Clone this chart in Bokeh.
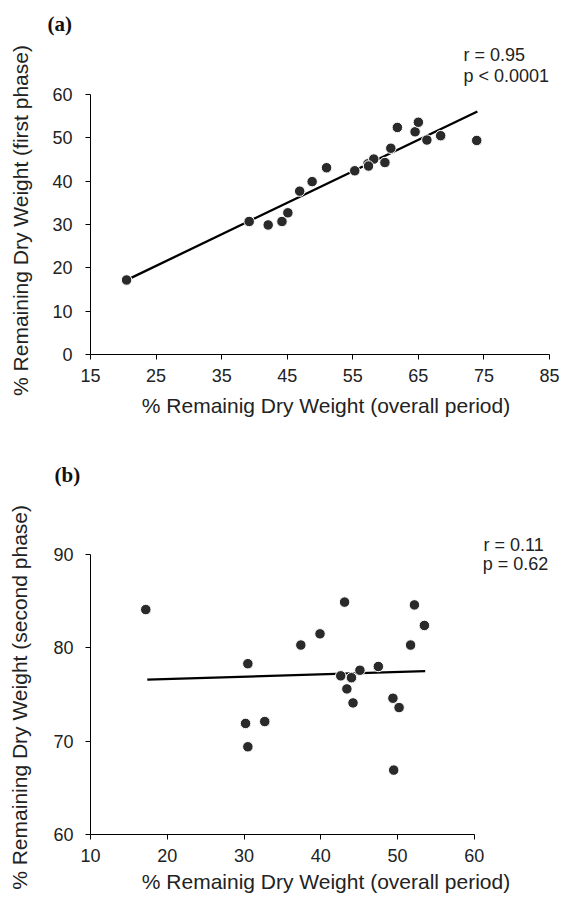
from bokeh.plotting import figure
from bokeh.layouts import column
from bokeh.models import Range1d, FixedTicker, Label, Title
from bokeh.embed import file_html
from bokeh.resources import INLINE

# ---------------- data ----------------
# panel (a)
a_overall = [20.5, 39.2, 42.1, 44.2, 45.1, 46.9, 48.8, 51.0, 55.3, 57.3, 58.2, 57.4,
             59.9, 60.8, 61.8, 64.5, 65.0, 66.3, 68.4, 73.9]
a_first = [17.2, 30.7, 29.9, 30.7, 32.7, 37.7, 39.9, 43.1, 42.4, 44.0, 45.1, 43.5,
           44.3, 47.6, 52.4, 51.4, 53.6, 49.5, 50.5, 49.4]
a_fit_x = [20.8, 74.0]
a_fit_y = [17.4, 56.1]
a_xticks = [15, 25, 35, 45, 55, 65, 75, 85]
a_yticks = [0, 10, 20, 30, 40, 50, 60]
a_stats = ["r = 0.95", "p < 0.0001"]

# panel (b)
b_overall = [17.2, 30.5, 30.2, 30.5, 32.7, 37.4, 39.9, 43.1, 42.6, 43.4, 44.0, 44.2,
             45.1, 47.5, 49.4, 50.2, 49.5, 51.7, 52.2, 53.5]
b_second = [84.1, 78.3, 71.9, 69.4, 72.1, 80.3, 81.5, 84.9, 77.0, 75.6, 76.8, 74.1,
            77.6, 78.0, 74.6, 73.6, 66.9, 80.3, 84.6, 82.4]
b_fit_x = [17.4, 53.6]
b_fit_y = [76.6, 77.5]
b_xticks = [10, 20, 30, 40, 50, 60]
b_yticks = [60, 70, 80, 90]
b_stats = ["r = 0.11", "p = 0.62"]

SANS = "Liberation Sans"
SERIF = "Liberation Serif"
TXT = "#222222"
DOT = "#2a2a2a"


def base_panel(height, xr, yr, xt, yt, top, bottom, x, y, fx, fy,
               xlab, ylab, ystand, ylabstand, xlabstand):
    p = figure(width=561, height=height, x_range=Range1d(*xr), y_range=Range1d(*yr),
               output_backend="svg", toolbar_location=None,
               min_border_left=90, min_border_right=0,
               min_border_top=top, min_border_bottom=bottom)
    p.title.visible = False
    xa, ya = p.xaxis[0], p.yaxis[0]
    xa.ticker = FixedTicker(ticks=xt)
    ya.ticker = FixedTicker(ticks=yt)
    xa.bounds = (xt[0], xt[-1])
    ya.bounds = (yt[0], yt[-1])
    for ax in (xa, ya):
        ax.axis_line_color = "black"
        ax.axis_line_width = 1
        ax.major_tick_line_color = "black"
        ax.major_tick_out = 5
        ax.major_tick_in = 0
        ax.minor_tick_line_color = None
        ax.major_label_text_font = SANS
        ax.major_label_text_font_size = "18px"
        ax.major_label_text_color = TXT
        ax.axis_label_text_font = SANS
        ax.axis_label_text_font_size = "21px"
        ax.axis_label_text_font_style = "normal"
        ax.axis_label_text_color = TXT
    xa.axis_label = xlab
    ya.axis_label = ylab
    xa.major_label_standoff = 9
    ya.major_label_standoff = ystand
    xa.axis_label_standoff = xlabstand
    ya.axis_label_standoff = ylabstand
    p.xgrid.grid_line_color = None
    p.ygrid.grid_line_color = None
    p.outline_line_color = None
    p.line(fx, fy, line_color="black", line_width=2.3)
    p.scatter(x, y, size=10.5, fill_color=DOT, line_color="white", line_width=1)
    return p


def stat_title(text, offset, standoff, line_height=1.2):
    return Title(text=text, text_font=SANS, text_font_size="18px", text_color=TXT,
                 text_font_style="normal", align="left", vertical_align="bottom",
                 offset=offset, standoff=standoff, text_line_height=line_height)


def tag_title(text, offset, standoff):
    return Title(text=text, text_font=SERIF, text_font_style="bold",
                 text_font_size="21px", text_color="#111111", align="left",
                 vertical_align="bottom", offset=offset, standoff=standoff)


# ---- panel (a): frame x 90..561, y 86..354 px; axes drawn only over data bounds
pa = base_panel(440, (15, 86.83), (0, 61.85), a_xticks, a_yticks, 86, 86,
                a_overall, a_first, a_fit_x, a_fit_y,
                "% Remainig Dry Weight (overall period)",
                "% Remaining Dry Weight (first phase)", 13, 17, 9)
pa.add_layout(stat_title("\n".join(a_stats), 373, 0, 1.09), "above")
pa.add_layout(tag_title("(a)", -43, 14), "above")

# ---- panel (b): frame x 90..561, y 554..834 px
pb = base_panel(460, (10, 71.36), (60, 90), b_xticks, b_yticks, 114, 66,
                b_overall, b_second, b_fit_x, b_fit_y,
                "% Remainig Dry Weight (overall period)",
                "% Remaining Dry Weight  (second phase)", 12, 19, 5)
pb.add_layout(stat_title(b_stats[0], 393, 0), "above")
pb.add_layout(Title(text=" ", text_font=SANS, text_font_size="21px", standoff=21), "above")
pb.add_layout(tag_title("(b)", -36, 0), "above")
pb.add_layout(Label(x=61.1, y=88.95, text=b_stats[1], text_font=SANS,
                    text_font_size="18px", text_color=TXT,
                    text_baseline="middle", text_align="left"))

layout = column(pa, pb, spacing=0)
open("out.html", "w").write(file_html(layout, INLINE))
